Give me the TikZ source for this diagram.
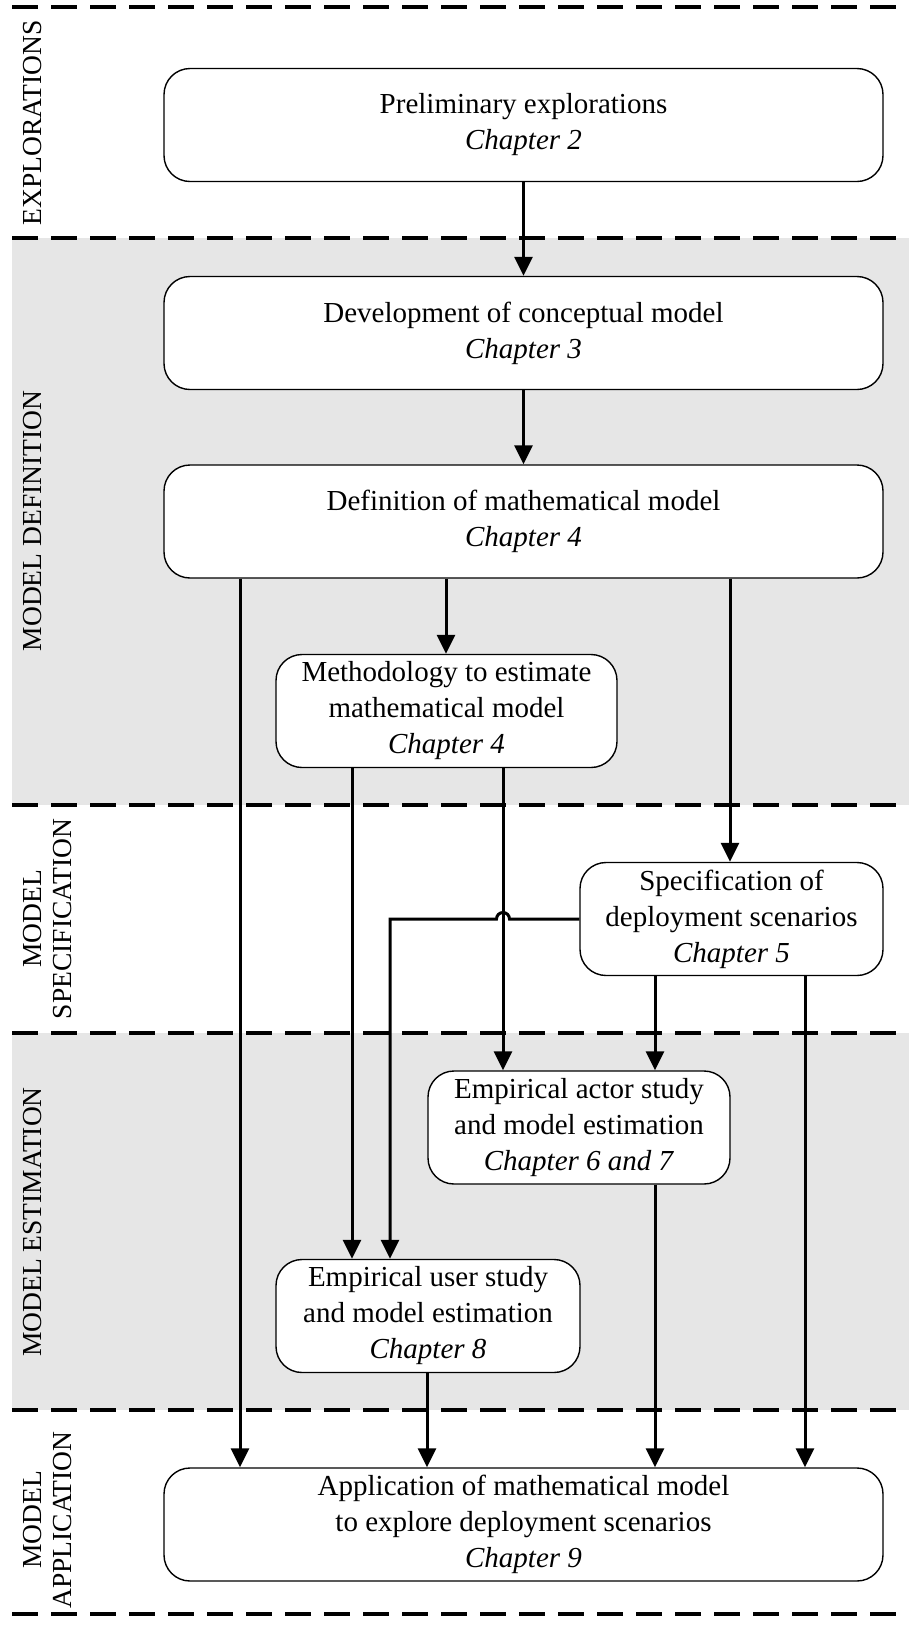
\documentclass[tikz,border=0pt]{standalone}
\usepackage{fontspec}
\setmainfont{Liberation Serif}
\usetikzlibrary{arrows.meta}
\definecolor{bandgray}{RGB}{230,230,230}
\begin{document}
\begin{tikzpicture}[x=1pt,y=-1pt,
  box/.style={draw=black,line width=1.4pt,fill=white,rounded corners=26pt,
    align=center,inner sep=0pt,minimum height=113pt,
    font=\fontsize{29}{36}\selectfont},
  arr/.style={line width=3pt,-{Triangle[length=19pt,width=18pt]}},
  link/.style={line width=3pt},
  sep/.style={line width=3.2pt,dash pattern=on 26pt off 13pt},
  phase/.style={rotate=90,align=center,font=\fontsize{27.5}{30}\selectfont}]
\useasboundingbox (0,0) rectangle (909,1634);
\fill[white] (0,0) rectangle (909,1634);
% shaded bands
\fill[bandgray] (12,238) rectangle (909,805);
\fill[bandgray] (12,1033) rectangle (909,1410);
% band separators
\foreach \yy in {7,238,805,1033,1410,1614}
  \draw[sep] (12,\yy) -- (909,\yy);
% phase labels
\node[phase] (l1) at (33,123) {EXPLORATIONS};
\node[phase] (l2) at (33,521) {MODEL DEFINITION};
\node[phase] (l3) at (48,919) {MODEL\\SPECIFICATION};
\node[phase] (l4) at (33,1222) {MODEL ESTIMATION};
\node[phase] (l5) at (48,1520) {MODEL\\APPLICATION};
% boxes
\node[box,minimum width=719pt] (b1) at (523.5,125) {Preliminary explorations\\\textit{Chapter 2}};
\node[box,minimum width=719pt] (b2) at (523.5,333) {Development of conceptual model\\\textit{Chapter 3}};
\node[box,minimum width=719pt] (b3) at (523.5,521.5) {Definition of mathematical model\\\textit{Chapter 4}};
\node[box,minimum width=341pt] (b4) at (446.5,711) {Methodology to estimate\\mathematical model\\\textit{Chapter 4}};
\node[box,minimum width=303pt] (b5) at (731.5,919) {Specification of\\deployment scenarios\\\textit{Chapter 5}};
\node[box,minimum width=302pt] (b6) at (579,1127.5) {Empirical actor study\\and model estimation\\\textit{Chapter 6 and 7}};
\node[box,minimum width=304pt] (b7) at (428,1316) {Empirical user study\\and model estimation\\\textit{Chapter 8}};
\node[box,minimum width=719pt] (b8) at (523.5,1524.5) {Application of mathematical model\\to explore deployment scenarios\\\textit{Chapter 9}};
% connectors
\draw[arr] (b1) -- (b2);
\draw[arr] (b2) -- (b3);
\draw[arr] (b3.south -| 240,0) -- (b8.north -| 240,0);
\draw[arr] (b3.south -| 446,0) -- (b4.north -| 446,0);
\draw[arr] (b3.south -| 730,0) -- (b5.north -| 730,0);
\draw[arr] (b4.south -| 352,0) -- (b7.north -| 352,0);
\draw[arr] (b4.south -| 503,0) -- (b6.north -| 503,0);
\coordinate (hop) at (509.5,919);
\coordinate (turn) at (390,919);
\draw[link,line join=miter,-{Triangle[length=19pt,width=18pt]}]
  (b5.west) -- (hop) arc[start angle=0,end angle=180,radius=6.5pt]
  -- (turn) -- (b7.north -| turn);
\draw[arr] (b5.south -| 655,0) -- (b6.north -| 655,0);
\draw[arr] (b5.south -| 805,0) -- (b8.north -| 805,0);
\draw[arr] (b6.south -| 655,0) -- (b8.north -| 655,0);
\draw[arr] (b7.south -| 427,0) -- (b8.north -| 427,0);
\end{tikzpicture}
\end{document}
